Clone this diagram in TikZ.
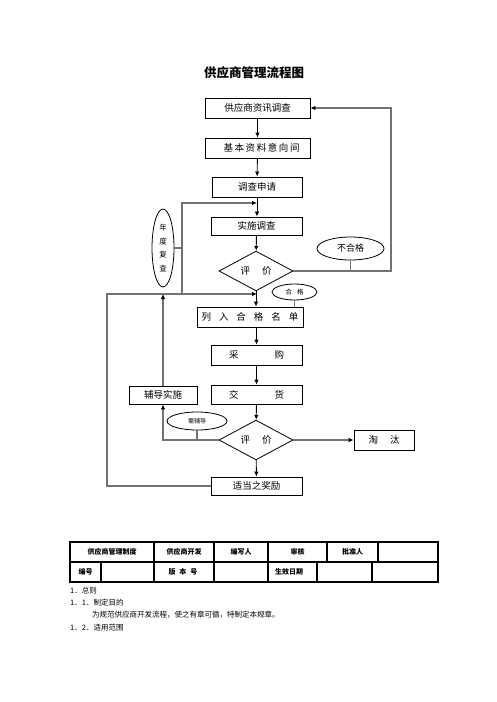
\documentclass[tikz,border=0pt]{standalone}
\usepackage{fontspec}
\newfontfamily\cjk{Noto Sans CJK SC}
\usetikzlibrary{shapes.geometric,arrows.meta}
\begin{document}
\begin{tikzpicture}[x=1pt,y=-1pt,
  box/.style={draw=black,line width=0.8pt,inner sep=0pt,font=\cjk\fontsize{9.5}{11}\selectfont},
  dia/.style={draw=black,line width=0.8pt,diamond,inner sep=0pt,minimum width=74pt,minimum height=32pt,font=\cjk\fontsize{9.5}{11}\selectfont},
  ell/.style={draw=black,line width=0.8pt,ellipse,inner sep=0pt},
  arr/.style={draw=black,line width=0.9pt,-{Latex[length=5pt,width=4.5pt]}},
  rail/.style={draw=black!55,line width=1.4pt},
  railarr/.style={rail,-{Latex[length=5pt,width=4.5pt,color=black]}},
  tcell/.style={inner sep=0pt,font=\cjk\bfseries\fontsize{7}{8}\selectfont},
  para/.style={anchor=west,inner sep=0pt,font=\cjk\fontsize{7.5}{9}\selectfont}
]
\useasboundingbox[fill=white] (0,0) rectangle (496,702);

\node[font=\cjk\bfseries\fontsize{12.5}{14}\selectfont] (title) at (254,73) {供应商管理流程图};

\node[box,minimum width=105pt,minimum height=20pt] (b1) at (257.5,108) {供应商资讯调查};
\node[box,minimum width=105pt,minimum height=20pt] (b2) at (257.5,148) {\hspace*{8pt}基\,本\,资\,料\,意\,向\,间};
\node[box,minimum width=90pt,minimum height=20pt] (b3) at (257,187) {调查申请};
\node[box,minimum width=91pt,minimum height=18pt] (b4) at (256.5,226) {实施调查};
\node[dia] (d1) at (256,271) {评\hspace{12pt}价};
\node[ell,minimum width=22pt,minimum height=78pt,align=center,font=\cjk\fontsize{7.5}{13.5}\selectfont] (eY) at (163,248) {年\\度\\复\\查};
\node[ell,minimum width=67pt,minimum height=23pt,font=\cjk\fontsize{9}{10}\selectfont] (eN) at (350.5,248.5) {不合格};
\node[ell,minimum width=45pt,minimum height=16pt,font=\cjk\fontsize{6.5}{8}\selectfont] (eP) at (294.5,292) {合\hspace{5pt}格};
\node[box,minimum width=106pt,minimum height=20pt] (b5) at (250,317) {列\hspace{8pt}入\hspace{8pt}合\hspace{8pt}格\hspace{8pt}名\hspace{8pt}单};
\node[box,minimum width=91pt,minimum height=20pt] (b6) at (256.5,355) {采\hspace{36pt}购};
\node[box,minimum width=91pt,minimum height=19pt] (b7) at (256.5,394.5) {交\hspace{36pt}货};
\node[box,minimum width=68pt,minimum height=18pt] (b8) at (163,395) {辅导实施};
\node[dia] (d2) at (256,440) {评\hspace{12pt}价};
\node[ell,minimum width=60pt,minimum height=18pt,font=\cjk\fontsize{6}{7}\selectfont] (eF) at (197,421) {需辅导};
\node[box,minimum width=60pt,minimum height=20pt] (b9) at (384,440) {淘\hspace{12pt}汰};
\node[box,minimum width=91pt,minimum height=18pt] (b10) at (256.5,486) {适当之奖励};

% free ends
\coordinate (rR) at (391,190);
\coordinate (yTop) at (182,203);
\coordinate (yBot) at (182,294);
\coordinate (jA) at (257,203);
\coordinate (jB) at (257,294);
\coordinate (L) at (107,390);

% main arrows
\draw[arr] (b1) -- (b2);
\draw[arr] (b2) -- (b3);
\draw[arr] (b3.south -| jA) -- (b4.north -| jA);
\draw[arr] (b4) -- (d1);
\draw[arr] (d1.south) -- (d1.south |- b5.north);
\draw[arr] (b5.south -| b6.north) -- (b6.north);
\draw[arr] (b6) -- (b7);
\draw[arr] (b7) -- (d2);
\draw[arr] (d2) -- (b10);

% rails
\draw[railarr] (d1.east) -| (rR) |- (b1.east);
\draw[rail] (eN.south) -- (eN.south |- d1.east);
\draw[rail] (eP.south) -- (eP.south |- b5.north);
\draw[rail] (eY.east) -- (eY.east -| yTop);
\draw[railarr] (yBot) -- (yTop) -- (jA);
\draw[railarr] (b10.west) -| (L) |- (jB);
\draw[railarr] (b8.north) -- (b8.north |- jB);
\draw[railarr] (d2.west) -| (b8.south);
\draw[rail] (eF.south) -- (eF.south |- d2.west);
\draw[railarr] (d2.east) -- (b9.west);

% table
\draw[line width=1.8pt] (70,542) rectangle (438,582);
\draw[line width=1.8pt] (70,562) -- (438,562);
\foreach \x in {154,214,268,327,378} \draw[line width=1.8pt] (\x,542) -- (\x,562);
\foreach \x in {101,154,214,268,317,372} \draw[line width=1.8pt] (\x,562) -- (\x,582);
\node[tcell] (t1) at (112,552) {供应商管理制度};
\node[tcell] (t2) at (184,552) {供应商开发};
\node[tcell] (t3) at (241,552) {编写人};
\node[tcell] (t4) at (297.5,552) {审核};
\node[tcell] (t5) at (352.5,552) {批准人};
\node[tcell] (t6) at (85.5,572) {编号};
\node[tcell] (t7) at (183,572) {版\hspace{4pt}本\hspace{4pt}号};
\node[tcell] (t8) at (289,572) {生效日期};

% paragraphs
\node[para] (p1) at (70,591) {1．总则};
\node[para] (p2) at (70,603) {1．1．制定目的};
\node[para] (p3) at (92,615) {为规范供应商开发流程，使之有章可循，特制定本规章。};
\node[para] (p4) at (70,628) {1．2．适用范围};
\end{tikzpicture}
\end{document}
